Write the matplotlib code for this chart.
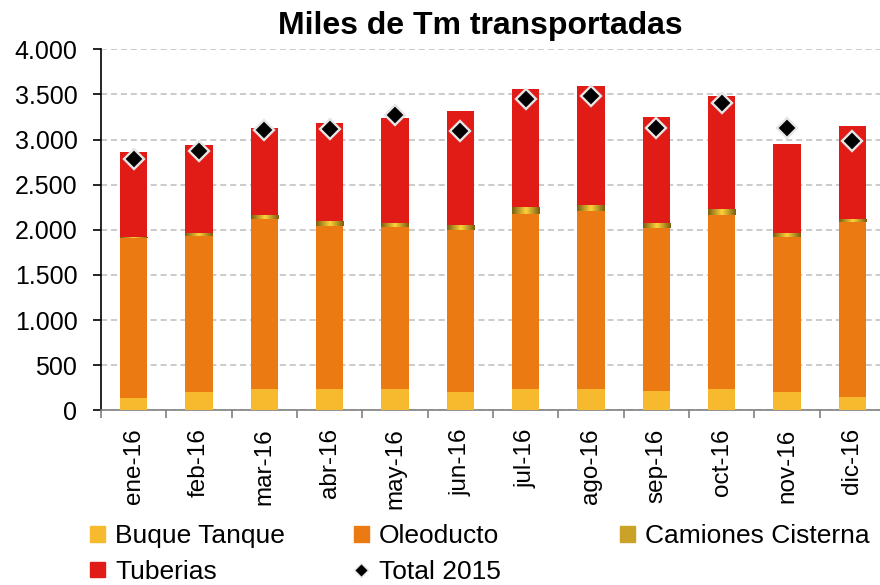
import numpy as np
import matplotlib
matplotlib.use("Agg")
import matplotlib.pyplot as plt
from matplotlib.patches import Patch
from matplotlib.lines import Line2D
from matplotlib.ticker import FuncFormatter, MultipleLocator
from matplotlib.colors import LinearSegmentedColormap

plt.rcParams['font.family'] = ['Liberation Sans', 'DejaVu Sans']

meses = ['ene-16', 'feb-16', 'mar-16', 'abr-16', 'may-16', 'jun-16',
         'jul-16', 'ago-16', 'sep-16', 'oct-16', 'nov-16', 'dic-16']
buque = [136, 203, 240, 240, 236, 203, 236, 236, 214, 236, 203, 148]
oleoducto = [1769, 1731, 1883, 1805, 1791, 1798, 1943, 1976, 1809, 1932, 1720, 1942]
camiones = [18, 34, 37, 56, 44, 56, 70, 67, 56, 59, 45, 33]
tuberias = [935, 968, 973, 1077, 1173, 1254, 1306, 1309, 1176, 1261, 988, 1032]
total_2015 = [2790, 2870, 3111, 3119, 3270, 3097, 3447, 3481, 3126, 3407, 3130, 2981]

c_buque = '#F7B92E'
c_oleo = '#EC7A13'
c_cam = '#C9A227'
c_tub = '#E11B16'

fig = plt.figure(figsize=(8.8, 5.85), dpi=100)
ax = fig.add_axes([101 / 880, 1 - 410.3 / 585, 784 / 880, 361 / 585])

x = np.arange(len(meses))
w = 0.42
b1 = np.array(buque)
b2 = b1 + np.array(oleoducto)
b3 = b2 + np.array(camiones)

ax.bar(x, buque, w, color=c_buque, zorder=3)
ax.bar(x, oleoducto, w, bottom=b1, color=c_oleo, zorder=3)
cam_bars = ax.bar(x, camiones, w, bottom=b2, color=c_cam, zorder=3)
ax.bar(x, tuberias, w, bottom=b3, color=c_tub, zorder=3)

# gradient fill for camiones cisterna
grad = LinearSegmentedColormap.from_list('oro', ['#7A6012', '#FFD23A', '#7A6012'])
gvals = np.linspace(0, 1, 64).reshape(1, -1)
for r in cam_bars:
    x0, y0 = r.get_x(), r.get_y()
    im = ax.imshow(gvals, cmap=grad, aspect='auto', zorder=4,
                   extent=[x0, x0 + r.get_width(), y0, y0 + r.get_height()])
    im.set_clip_path(r)

ax.plot(x, total_2015, linestyle='none', marker='D', markersize=10,
        markerfacecolor='black', markeredgecolor='#E6E6E6', markeredgewidth=1.7,
        zorder=5)

ax.set_xlim(-0.5, len(meses) - 0.5)
ax.set_ylim(0, 4000)
ax.yaxis.set_major_locator(MultipleLocator(500))
ax.yaxis.set_major_formatter(FuncFormatter(lambda v, p: f'{int(v):,}'.replace(',', '.')))
ax.grid(axis='y', color='#BDBDBD', linestyle=(0, (4, 2.5)), linewidth=1.1, zorder=0)

ax.set_xticks(x)
ax.set_xticklabels(meses, rotation=90, fontsize=17.5)
ax.set_xticks(np.arange(-0.5, len(meses)), minor=True)
ax.tick_params(axis='x', which='major', length=0, pad=13)
ax.tick_params(axis='x', which='minor', length=6, color='#808080', width=1.2)
ax.tick_params(axis='y', length=6, width=1.2, labelsize=18, pad=11)

for s in ['top', 'right']:
    ax.spines[s].set_visible(False)
ax.spines['left'].set_color('black')
ax.spines['left'].set_linewidth(1.2)
ax.spines['bottom'].set_color('#808080')
ax.spines['bottom'].set_linewidth(1.2)

fig.text(480 / 880, 1 - 26 / 585, 'Miles de Tm transportadas', ha='center', va='center',
         fontsize=23, fontweight='bold')

# legend in three columns, one legend per column
leg_kw = dict(frameon=False, fontsize=19, handlelength=0.55, handleheight=0.55,
              handletextpad=0.4, labelspacing=0.45, borderaxespad=0, borderpad=0)
top = 1 - 524 / 585
l1 = fig.legend([Patch(color=c_buque), Patch(color=c_tub)], ['Buque Tanque', 'Tuberias'],
                loc='upper left', bbox_to_anchor=(90 / 880, top), **leg_kw)
l2 = fig.legend([Patch(color=c_oleo),
                 Line2D([], [], linestyle='none', marker='D', markersize=7,
                        markerfacecolor='black', markeredgecolor='#E6E6E6')],
                ['Oleoducto', 'Total 2015'],
                loc='upper left', bbox_to_anchor=(354 / 880, top), **leg_kw)
l3 = fig.legend([Patch(color=c_cam)], ['Camiones Cisterna'],
                loc='upper left', bbox_to_anchor=(620 / 880, top), **leg_kw)

fig.savefig('out.png', dpi=100)
